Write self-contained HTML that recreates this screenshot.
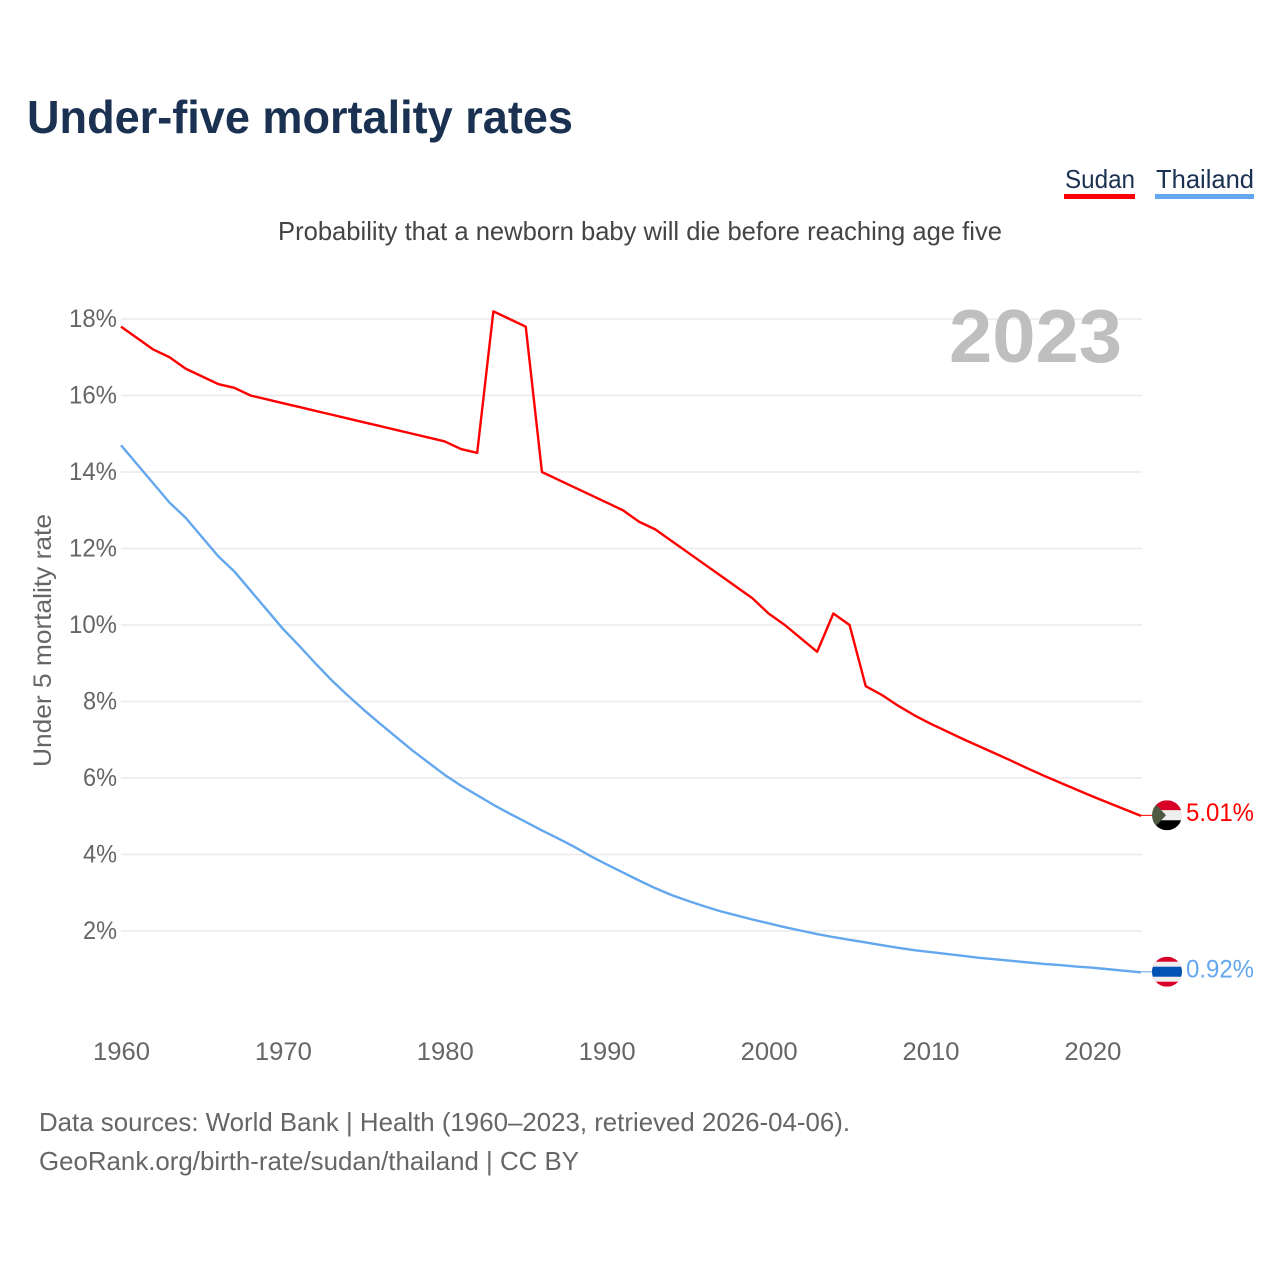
<!DOCTYPE html>
<html lang="en">
<head>
<meta charset="utf-8">
<title>Under-five mortality rates</title>
<style>
html,body{margin:0;padding:0;background:#fff;width:1280px;height:1280px;overflow:hidden}
svg{display:block}
text{font-family:"Liberation Sans",sans-serif}
</style>
</head>
<body>
<svg id="chart" xmlns="http://www.w3.org/2000/svg" width="1280" height="1280" viewBox="0 0 1280 1280">
  <defs>
    <clipPath id="flag-clip"><circle cx="0" cy="0" r="15"></circle></clipPath>
  </defs>
  <rect width="1280" height="1280" fill="#ffffff"></rect>
  <text x="27" y="133" font-size="46" font-weight="700" fill="#1a3152" textLength="546" lengthAdjust="spacingAndGlyphs">Under-five mortality rates</text>
  <g>
    <text x="1065" y="188" font-size="26" fill="#1a3152" textLength="70" lengthAdjust="spacingAndGlyphs">Sudan</text>
    <rect x="1064" y="194" width="71" height="5" fill="#ff0000"></rect>
  </g>
  <g>
    <text x="1156" y="188" font-size="26" fill="#1a3152" textLength="98" lengthAdjust="spacingAndGlyphs">Thailand</text>
    <rect x="1155" y="194" width="99" height="5" fill="#63a7ee"></rect>
  </g>
  <text x="278" y="240" font-size="26" fill="#444444" textLength="724" lengthAdjust="spacingAndGlyphs">Probability that a newborn baby will die before reaching age five</text>
  <g id="grid"></g>
  <g id="y-axis"></g>
  <g id="x-axis"></g>
  <text x="949" y="362" font-size="75" font-weight="700" fill="#bfbfbf" textLength="173" lengthAdjust="spacingAndGlyphs">2023</text>
  <text transform="translate(51 767) rotate(-90)" font-size="25" fill="#666666" textLength="253" lengthAdjust="spacingAndGlyphs">Under 5 mortality rate</text>
  <g id="series"></g>
  <g id="flag-sudan">
    <g clip-path="url(#flag-clip)">
      <rect x="-15" y="-15" width="30" height="10" fill="#d80027"></rect>
      <rect x="-15" y="-5" width="30" height="10" fill="#eeeeee"></rect>
      <rect x="-15" y="5" width="30" height="10" fill="#000000"></rect>
      <polygon points="-15,-15 -1,0 -15,15" fill="#4d5a41"></polygon>
    </g>
  </g>
  <g id="flag-thailand">
    <g clip-path="url(#flag-clip)">
      <rect x="-15" y="-15" width="30" height="30" fill="#d80027"></rect>
      <rect x="-15" y="-10" width="30" height="20" fill="#eeeeee"></rect>
      <rect x="-15" y="-5" width="30" height="10" fill="#0052b4"></rect>
    </g>
  </g>
  <g id="end-labels"></g>
  <text x="39" y="1131" font-size="26" fill="#666666" textLength="811" lengthAdjust="spacingAndGlyphs">Data sources: World Bank | Health (1960–2023, retrieved 2026-04-06).</text>
  <text x="39" y="1170" font-size="26" fill="#666666" textLength="540" lengthAdjust="spacingAndGlyphs">GeoRank.org/birth-rate/sudan/thailand | CC BY</text>
</svg>
<script>
const years = [1960,1961,1962,1963,1964,1965,1966,1967,1968,1969,1970,1971,1972,1973,1974,1975,1976,1977,1978,1979,1980,1981,1982,1983,1984,1985,1986,1987,1988,1989,1990,1991,1992,1993,1994,1995,1996,1997,1998,1999,2000,2001,2002,2003,2004,2005,2006,2007,2008,2009,2010,2011,2012,2013,2014,2015,2016,2017,2018,2019,2020,2021,2022,2023];
const sudanValues = [17.8,17.5,17.2,17.0,16.7,16.5,16.3,16.2,16.0,15.9,15.8,15.7,15.6,15.5,15.4,15.3,15.2,15.1,15.0,14.9,14.8,14.6,14.5,18.2,18.0,17.8,14.0,13.8,13.6,13.4,13.2,13.0,12.7,12.5,12.2,11.9,11.6,11.3,11.0,10.7,10.3,10.0,9.65,9.3,10.3,10.0,8.4,8.17,7.89,7.64,7.42,7.22,7.02,6.83,6.64,6.45,6.25,6.06,5.88,5.7,5.52,5.35,5.18,5.01];
const thailandValues = [14.7,14.2,13.7,13.2,12.8,12.3,11.8,11.4,10.9,10.4,9.9,9.46,9.0,8.56,8.16,7.78,7.42,7.07,6.72,6.4,6.08,5.8,5.55,5.3,5.07,4.85,4.63,4.42,4.2,3.96,3.74,3.53,3.32,3.12,2.94,2.79,2.65,2.52,2.41,2.3,2.2,2.1,2.01,1.92,1.84,1.77,1.7,1.63,1.56,1.5,1.45,1.4,1.35,1.3,1.26,1.22,1.18,1.14,1.11,1.07,1.04,1.0,0.96,0.92];
const yTickValues = [2,4,6,8,10,12,14,16,18];
const xTickValues = [1960,1970,1980,1990,2000,2010,2020];

const SVG_NS = 'http://www.w3.org/2000/svg';
function xScale(year) { return 121 + (year - 1960) * 16.19; }
function yScale(value) { return 1007.5 - value * 38.25; }
function make(tag, parent) {
  const el = document.createElementNS(SVG_NS, tag);
  parent.appendChild(el);
  return el;
}
function linePath(values) {
  return values.map(function (v, i) {
    return (i ? 'L' : 'M') + xScale(years[i]).toFixed(2) + ' ' + yScale(v).toFixed(2);
  }).join(' ');
}

const grid = document.getElementById('grid');
const yAxis = document.getElementById('y-axis');
yTickValues.forEach(function (v) {
  const line = make('line', grid);
  
  
  line.setAttribute('x1', 121);
  line.setAttribute('x2', 1142);
  line.setAttribute('y1', yScale(v));
  line.setAttribute('y2', yScale(v));
  line.setAttribute('stroke', '#eaeaea');
  line.setAttribute('stroke-width', 1.6);
  const label = make('text', yAxis);
  
  
  label.setAttribute('x', 117);
  label.setAttribute('y', yScale(v) + 8);
  label.setAttribute('text-anchor', 'end');
  label.setAttribute('font-size', 25);
  label.setAttribute('fill', '#666666');
  label.setAttribute('textLength', String(v).length * 14 + 20);
  label.setAttribute('lengthAdjust', 'spacingAndGlyphs');
  label.textContent = v + '%';
});

const xAxis = document.getElementById('x-axis');
xTickValues.forEach(function (year) {
  const label = make('text', xAxis);
  
  
  label.setAttribute('x', xScale(year) + 0.5);
  label.setAttribute('y', 1060);
  label.setAttribute('text-anchor', 'middle');
  label.setAttribute('font-size', 25);
  label.setAttribute('fill', '#666666');
  label.setAttribute('textLength', 57);
  label.setAttribute('lengthAdjust', 'spacingAndGlyphs');
  label.textContent = String(year);
});

const seriesGroup = document.getElementById('series');
const endLabels = document.getElementById('end-labels');
const lastYear = years[years.length - 1];

function drawSeries(name, values, colour, flagId, labelWidth) {
  const last = values[values.length - 1];
  const path = make('path', seriesGroup);
  
  
  path.setAttribute('d', linePath(values));
  path.setAttribute('fill', 'none');
  path.setAttribute('stroke', colour);
  path.setAttribute('stroke-width', 2.4);
  path.setAttribute('stroke-linejoin', 'round');
  const connector = make('line', seriesGroup);
  
  
  connector.setAttribute('x1', xScale(lastYear));
  connector.setAttribute('x2', 1152);
  connector.setAttribute('y1', yScale(last) - 0.5);
  connector.setAttribute('y2', yScale(last) - 0.5);
  connector.setAttribute('stroke', colour);
  connector.setAttribute('stroke-width', 1);
  document.getElementById(flagId).setAttribute('transform', 'translate(1167 ' + (yScale(last) - 0.6).toFixed(2) + ')');
  const label = make('text', endLabels);
  
  
  label.setAttribute('x', 1254);
  label.setAttribute('y', yScale(last) + 5.2);
  label.setAttribute('text-anchor', 'end');
  label.setAttribute('font-size', 25);
  label.setAttribute('fill', colour);
  label.setAttribute('textLength', labelWidth);
  label.setAttribute('lengthAdjust', 'spacingAndGlyphs');
  label.textContent = last.toFixed(2) + '%';
}
drawSeries('sudan', sudanValues, '#ff0000', 'flag-sudan', 68);
drawSeries('thailand', thailandValues, '#63a7ee', 'flag-thailand', 68);
</script>
</body>
</html>
